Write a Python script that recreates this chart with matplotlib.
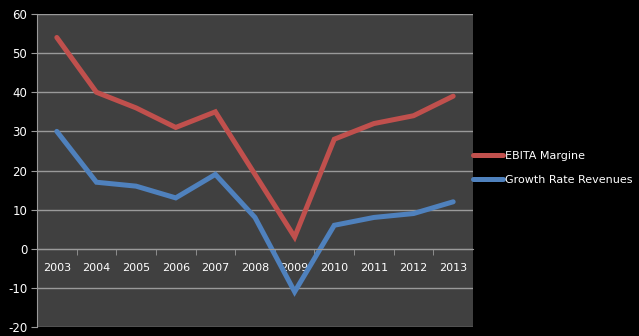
import matplotlib
matplotlib.use("Agg")
import matplotlib.pyplot as plt
import numpy as np

plt.rcParams["axes.unicode_minus"] = False

years = ["2003", "2004", "2005", "2006", "2007", "2008", "2009", "2010", "2011", "2012", "2013"]
ebita_margin = [54, 40, 36, 31, 35, 19, 3, 28, 32, 34, 39]
growth_rate = [30, 17, 16, 13, 19, 8, -11, 6, 8, 9, 12]

fig = plt.figure(figsize=(6.39, 3.36), dpi=100, facecolor="black")
ax = fig.add_axes([37/639, 1 - 327/336, (473-37)/639, (327-14)/336])
ax.set_facecolor("#404040")

x = np.arange(len(years))
ax.plot(x, ebita_margin, color="#c0504d", lw=3.6, label="EBITA Margine", solid_capstyle="round", solid_joinstyle="miter")
ax.plot(x, growth_rate, color="#4f81bd", lw=3.6, label="Growth Rate Revenues", solid_capstyle="round", solid_joinstyle="miter")

ax.set_xlim(-0.5, len(years) - 0.5)
ax.set_ylim(-20, 60)
ax.set_yticks(range(-20, 61, 10))
ax.grid(axis="y", color="#9a9a9a", lw=1)
ax.set_axisbelow(True)

for s in ["top", "right"]:
    ax.spines[s].set_visible(False)
ax.spines["left"].set_color("#9a9a9a")
ax.spines["bottom"].set_position(("data", 0))
ax.spines["bottom"].set_color("#9a9a9a")

ax.set_xticks(x)
ax.set_xticklabels(years)
ax.set_xticks(np.arange(0.5, len(years) - 0.5, 1), minor=True)
ax.tick_params(axis="x", which="major", length=0, pad=10, labelsize=8, colors="white")
ax.tick_params(axis="x", which="minor", length=4, direction="out", color="#9a9a9a")
ax.tick_params(axis="y", length=4, color="#9a9a9a", labelsize=8.5, labelcolor="white", pad=3)

leg = fig.legend(loc="center left", bbox_to_anchor=(473/639, 1 - 168/336), frameon=False,
                 labelcolor="white", fontsize=8, handlelength=2.7, handletextpad=0.15,
                 labelspacing=1.25, borderpad=0, borderaxespad=0)

fig.savefig("out.png", dpi=100, facecolor="black")
